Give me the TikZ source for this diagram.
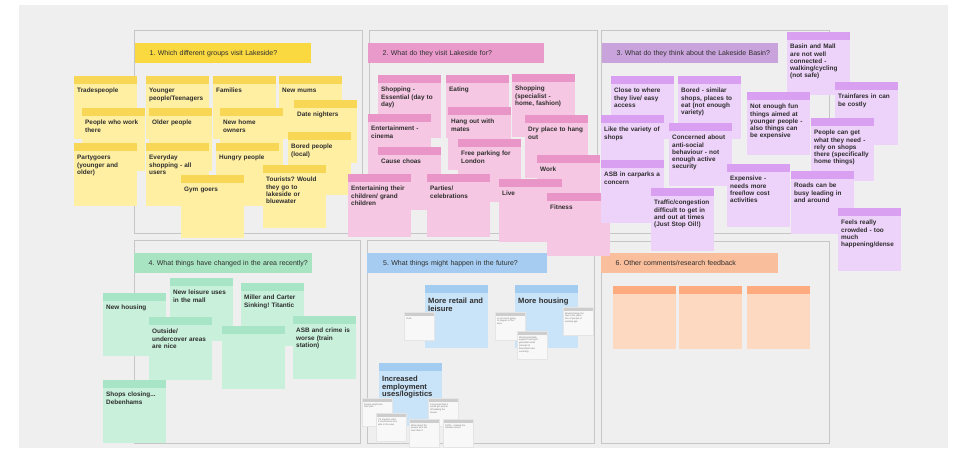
\documentclass[tikz,border=0pt]{standalone}
\usepackage{fontspec}
\setmainfont{Liberation Sans}
\frenchspacing

\definecolor{boardgrey}{HTML}{EFEFEF}
\definecolor{framegrey}{HTML}{C6C6C6}
\definecolor{inkgrey}{HTML}{2E2E2E}
\definecolor{ylwtitle}{HTML}{FAD83F}
\definecolor{ylwhead}{HTML}{F8D757}
\definecolor{ylwbody}{HTML}{FFEFA3}
\definecolor{pnktitle}{HTML}{E99ACB}
\definecolor{pnkhead}{HTML}{E995C8}
\definecolor{pnkbody}{HTML}{F6C7E2}
\definecolor{prptitle}{HTML}{C9A3DC}
\definecolor{prphead}{HTML}{D9A0F2}
\definecolor{prpbody}{HTML}{EDD2F9}
\definecolor{grntitle}{HTML}{A8E4C2}
\definecolor{grnhead}{HTML}{A8E5C6}
\definecolor{grnbody}{HTML}{C8F0DB}
\definecolor{blutitle}{HTML}{A6CDF1}
\definecolor{bluhead}{HTML}{A3CCF1}
\definecolor{blubody}{HTML}{C9E3F8}
\definecolor{orgtitle}{HTML}{F9BE9B}
\definecolor{orghead}{HTML}{FDAB7F}
\definecolor{orgbody}{HTML}{FDD9C2}
\definecolor{smlhead}{HTML}{CDCDCD}
\definecolor{smlbody}{HTML}{F8F8F8}

\newcommand{\stickyfont}{\fontsize{6.4}{7.3}\selectfont\bfseries}
\newcommand{\bigstickyfont}{\fontsize{7.6}{7.8}\selectfont\bfseries}
\newcommand{\smallnotefont}{\fontsize{2.3}{2.8}\selectfont}
\newcommand{\boardtitlefont}{\fontsize{7}{8}\selectfont}

\tikzset{
  frame/.style={rectangle,anchor=north west,draw=framegrey,line width=0.8pt,fill=boardgrey,inner sep=0pt},
  titlebar/.style={rectangle,anchor=north west,fill=#1,inner xsep=2pt,inner ysep=0pt,
    minimum width=176pt,minimum height=20pt,text width=172pt,align=left,font=\boardtitlefont,text=inkgrey,
    execute at begin node={\hspace*{12.5pt}}},
  sticky/.style 2 args={rectangle,anchor=north west,fill=#2,inner xsep=3pt,inner ysep=0pt,
    text width=57pt,minimum width=63pt,text height=16.5pt,text depth=46.5pt,align=left,
    font=\stickyfont,text=inkgrey,
    path picture={\fill[#1] (path picture bounding box.north west) rectangle ([yshift=-8pt]path picture bounding box.north east);}},
  ynote/.style={sticky={ylwhead}{ylwbody}},
  pnote/.style={sticky={pnkhead}{pnkbody}},
  unote/.style={sticky={prphead}{prpbody}},
  gnote/.style={sticky={grnhead}{grnbody}},
  bnote/.style={sticky={bluhead}{blubody},font=\bigstickyfont,text height=18pt,text depth=45pt},
  onote/.style={sticky={orghead}{orgbody}},
  snote/.style={rectangle,anchor=north west,fill=smlbody,draw=black!10,line width=0.3pt,
    inner xsep=2pt,inner ysep=0pt,text width=26pt,minimum width=30pt,text height=7pt,text depth=21pt,
    align=left,font=\smallnotefont,text=black!55,
    path picture={\fill[smlhead] (path picture bounding box.north west) rectangle ([yshift=-3.5pt]path picture bounding box.north east);}}
}

\begin{document}
\begin{tikzpicture}[x=1pt,y=-1pt]
  \useasboundingbox (0,0) rectangle (955,451);
  % board
  \fill[boardgrey] (19,5) rectangle (948,448);

  % frames
  \node[frame,minimum width=228pt,minimum height=203pt] (f1) at (134,30) {};
  \node[frame,minimum width=228pt,minimum height=203pt] (f2) at (369,30) {};
  \node[frame,minimum width=228pt,minimum height=203pt] (f3) at (601,30) {};
  \node[frame,minimum width=226pt,minimum height=203pt] (f4) at (134,240) {};
  \node[frame,minimum width=227pt,minimum height=203pt] (f5) at (367,240) {};
  \node[frame,minimum width=228pt,minimum height=202pt] (f6) at (601,241) {};

  % titles
  \node[titlebar=ylwtitle] (t1) at (135,43) {1. Which different groups visit Lakeside?};
  \node[titlebar=pnktitle] (t2) at (368,43) {2. What do they visit Lakeside for?};
  \node[titlebar=prptitle] (t3) at (602,43) {3. What do they think about the Lakeside Basin?};
  \node[titlebar=grntitle,minimum width=178pt,text width=174pt] (t4) at (134,253) {4. What things have changed in the area recently?};
  \node[titlebar=blutitle,minimum width=180pt,text width=176pt] (t5) at (367,253) {\hspace*{1.5pt}5. What things might happen in the future?};
  \node[titlebar=orgtitle,minimum width=177pt,text width=173pt] (t6) at (601,253) {6. Other comments/research feedback};

  % 1. groups
  \node[ynote] (y1) at (74,76) {Tradespeople};
  \node[ynote] (y2) at (146,76) {Younger\\people/Teenagers};
  \node[ynote] (y3) at (213,76) {Families};
  \node[ynote] (y4) at (279,76) {New mums};
  \node[ynote] (y5) at (294,100) {Date nighters};
  \node[ynote] (y6) at (82,108) {People who work\\there};
  \node[ynote] (y7) at (149,108) {Older people};
  \node[ynote] (y8) at (220,108) {New home\\owners};
  \node[ynote] (y9) at (288,132) {Bored people\\(local)};
  \node[ynote] (y10) at (74,143) {Partygoers\\(younger and\\older)};
  \node[ynote] (y11) at (146,143) {Everyday\\shopping - all\\users};
  \node[ynote] (y12) at (216,143) {Hungry people};
  \node[ynote] (y13) at (263,165) {Tourists? Would\\they go to\\lakeside or\\bluewater};
  \node[ynote] (y14) at (181,175) {Gym goers};

  % 2. reasons
  \node[pnote] (p1) at (378,75) {Shopping -\\Essential (day to\\day)};
  \node[pnote] (p2) at (446,75) {Eating};
  \node[pnote] (p3) at (512,74) {Shopping\\(specialist -\\home, fashion)};
  \node[pnote] (p4) at (368,114) {Entertainment -\\cinema};
  \node[pnote] (p5) at (448,107) {Hang out with\\mates};
  \node[pnote] (p6) at (525,115) {Dry place to hang\\out};
  \node[pnote] (p7) at (378,147) {Cause choas};
  \node[pnote] (p8) at (458,139) {Free parking for\\London};
  \node[pnote] (p9) at (537,155) {Work};
  \node[pnote] (p10) at (348,174) {Entertaining their\\children/ grand\\children};
  \node[pnote] (p11) at (427,174) {Parties/\\celebrations};
  \node[pnote] (p12) at (499,179) {Live};
  \node[pnote] (p13) at (547,193) {Fitness};

  % 3. opinions
  \node[unote] (u1) at (787,32) {Basin and Mall\\are not well\\connected -\\walking/cycling\\(not safe)};
  \node[unote] (u2) at (611,76) {Close to where\\they live/ easy\\access};
  \node[unote] (u3) at (678,76) {Bored - similar\\shops, places to\\eat (not enough\\variety)};
  \node[unote] (u4) at (835,82) {Trainfares in can\\be costly};
  \node[unote] (u5) at (747,92) {Not enough fun\\things aimed at\\younger people -\\also things can\\be expensive};
  \node[unote] (u6) at (601,115) {Like the variety of\\shops};
  \node[unote] (u7) at (811,118) {People can get\\what they need -\\rely on shops\\there (specifically\\home things)};
  \node[unote] (u8) at (669,123) {Concerned about\\anti-social\\behaviour - not\\enough active\\security};
  \node[unote] (u9) at (601,160) {ASB in carparks a\\concern};
  \node[unote] (u10) at (727,164) {Expensive -\\needs more\\free/low cost\\activities};
  \node[unote] (u11) at (791,171) {Roads can be\\busy leading in\\and around};
  \node[unote] (u12) at (651,188) {Traffic/congestion\\difficult to get in\\and out at times\\(Just Stop Oil!)};
  \node[unote] (u13) at (838,208) {Feels really\\crowded - too\\much\\happening/dense};

  % 4. changes
  \node[gnote] (g1) at (103,293) {New housing};
  \node[gnote] (g2) at (170,278) {New leisure uses\\in the mall};
  \node[gnote] (g3) at (241,283) {Miller and Carter\\Sinking! Titantic};
  \node[gnote] (g4) at (149,317) {Outside/\\undercover areas\\are nice};
  \node[gnote] (g5) at (222,326) {};
  \node[gnote] (g6) at (293,316) {ASB and crime is\\worse (train\\station)};
  \node[gnote] (g7) at (103,380) {Shops closing...\\Debenhams};

  % 5. future
  \node[bnote] (b1) at (425,285) {More retail and\\leisure};
  \node[bnote] (b2) at (515,285) {More housing};
  \node[bnote] (b3) at (379,363) {Increased\\employment\\uses/logistics};
  \node[snote] (s1) at (404,312) {Yeah};
  \node[snote] (s2) at (495,312) {ie not much going\\to happen in the\\area};
  \node[snote] (s3) at (563,307) {Would change the\\feel of the place -\\lots of people of\\working age};
  \node[snote] (s4) at (517,331) {Would potentially\\support housing in\\greenbelt areas\\(instead of\\brownfield sites\\currently)};
  \node[snote] (s5) at (362,398) {People might lose\\their jobs};
  \node[snote] (s6) at (428,398) {Concerned that it\\would get people\\off walking the\\streets};
  \node[snote] (s7) at (376,413) {If it impacts retail\\it could mean less\\jobs in the area};
  \node[snote] (s8) at (409,419) {What about the\\people who live\\near there?};
  \node[snote] (s9) at (443,419) {Traffic - making the\\situation worse};

  % 6. other
  \node[onote] (o1) at (613,286) {};
  \node[onote] (o2) at (679,286) {};
  \node[onote] (o3) at (747,286) {};
\end{tikzpicture}
\end{document}
